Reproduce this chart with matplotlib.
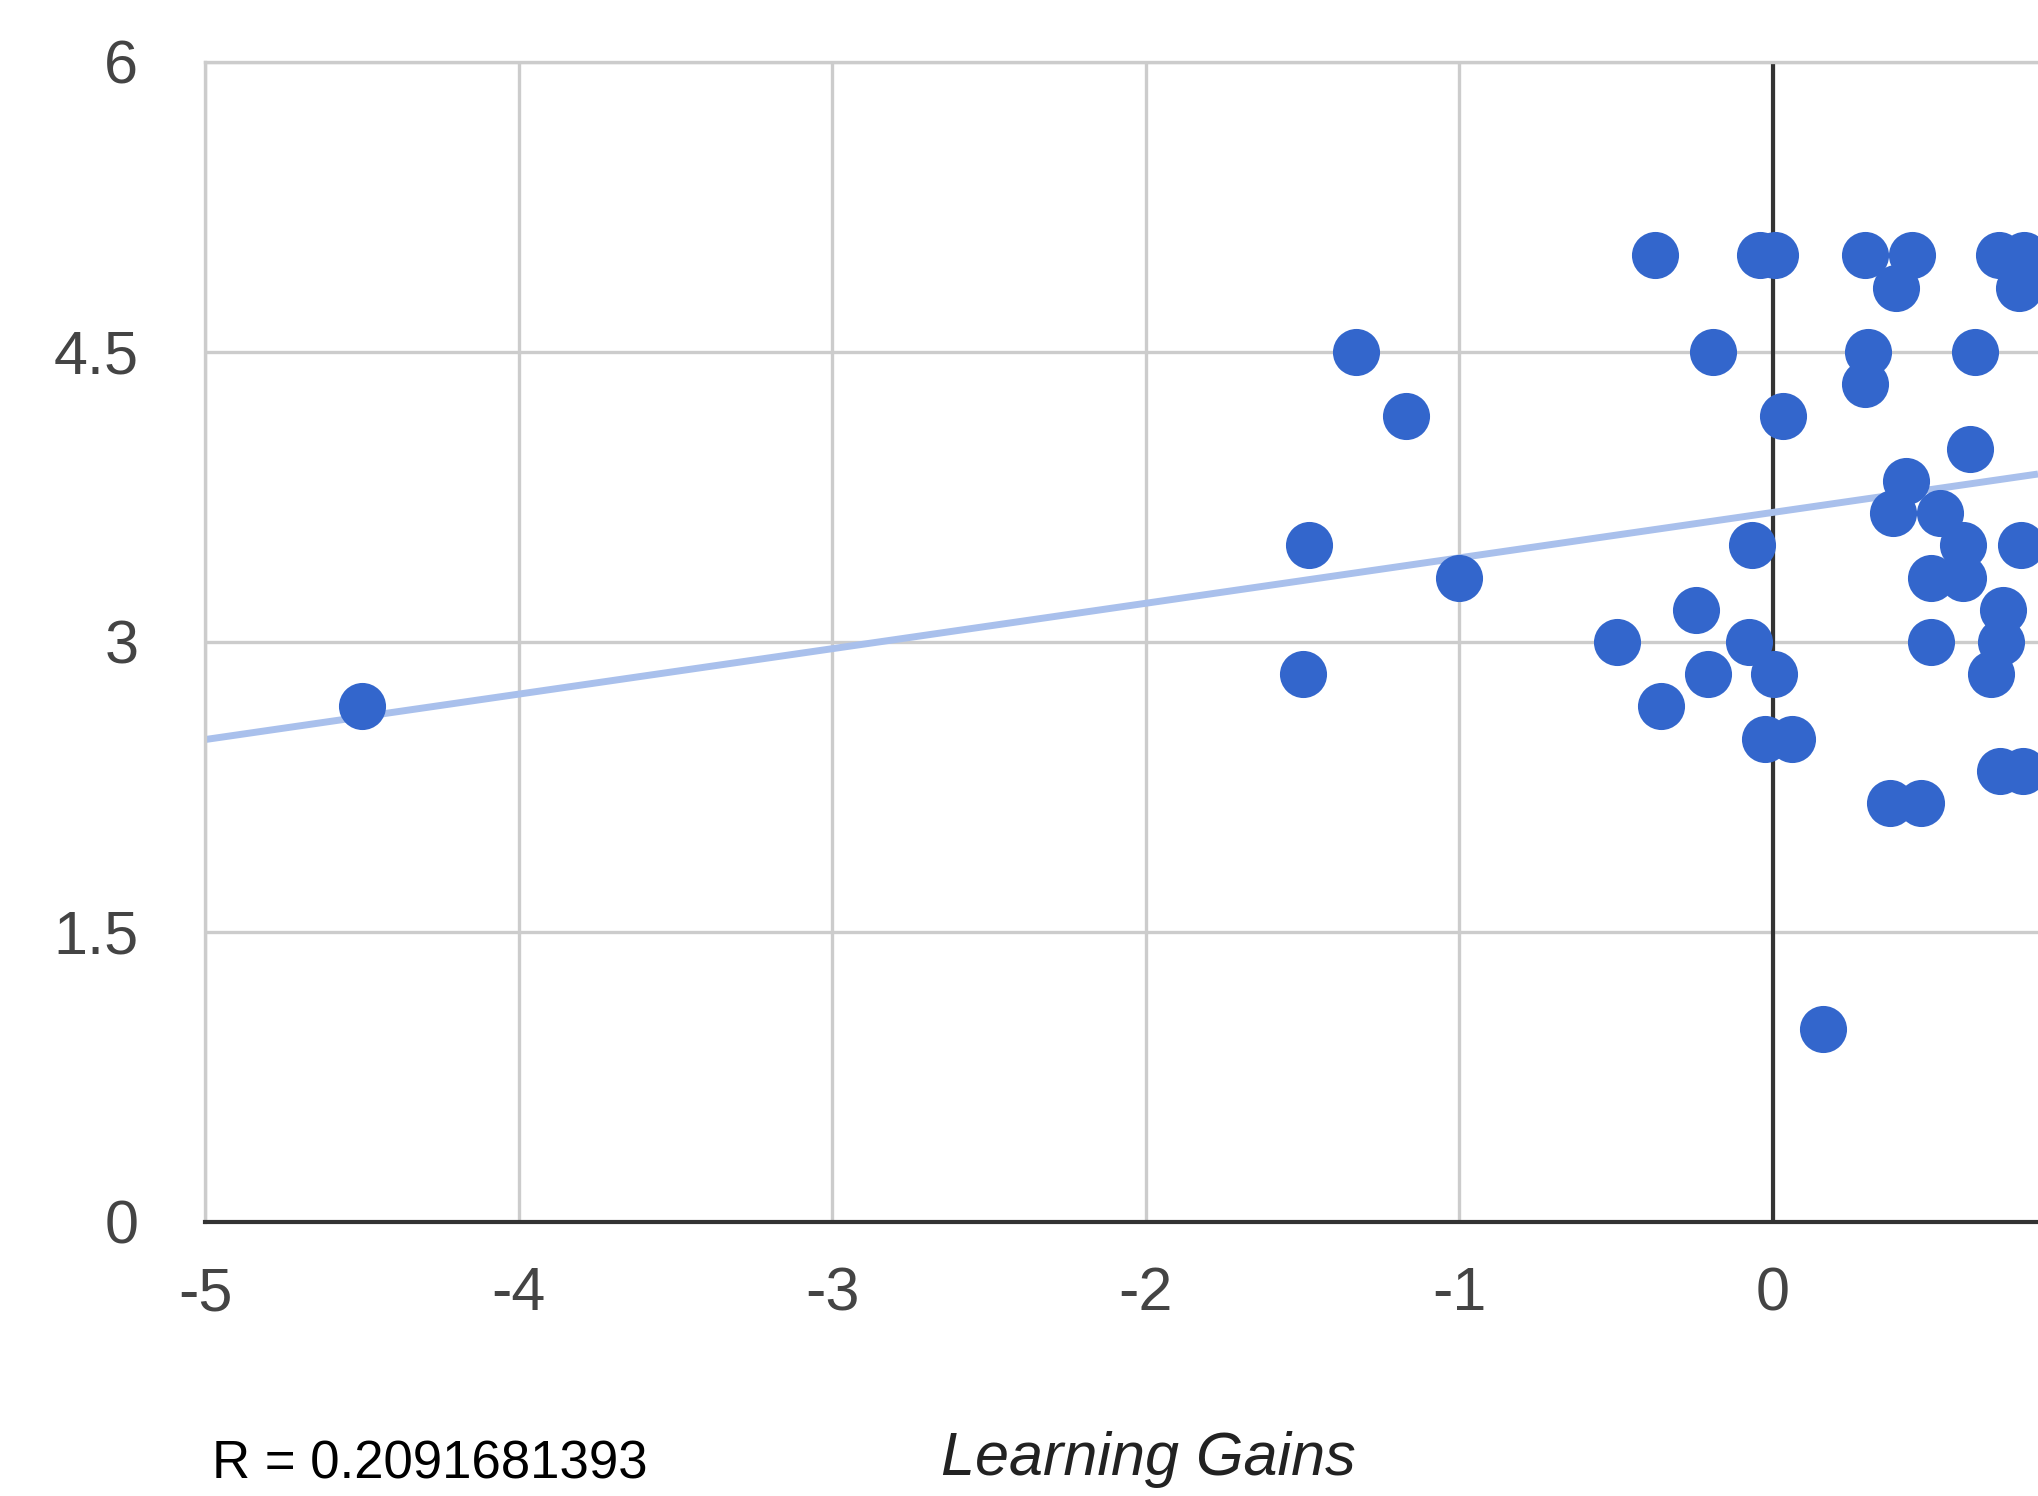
import numpy as np
import matplotlib
matplotlib.use("Agg")
import matplotlib.pyplot as plt

# Pontos (ganho de aprendizagem vs. pontuação)
gains = [-4.50, -1.33, -1.17, -1.48, -1.50, -1.00,
         -0.375, -0.04, 0.007, -0.19, 0.032, -0.067, -0.245, -0.497, -0.076,
         -0.207, 0.003, -0.357, -0.027, 0.062, 0.161,
         0.292, 0.443, 0.393, 0.72, 0.80, 0.786,
         0.303, 0.294, 0.643, 0.627, 0.425, 0.383, 0.531, 0.606, 0.792,
         0.505, 0.606, 0.733, 0.728, 0.505, 0.694, 0.723, 0.797, 0.372, 0.473]
scores = [2.667, 4.5, 4.167, 3.5, 2.833, 3.333,
          5.0, 5.0, 5.0, 4.5, 4.167, 3.5, 3.167, 3.0, 3.0,
          2.833, 2.833, 2.667, 2.5, 2.5, 1.0,
          5.0, 5.0, 4.833, 5.0, 5.0, 4.833,
          4.5, 4.333, 4.5, 4.0, 3.833, 3.667, 3.667, 3.5, 3.5,
          3.333, 3.333, 3.167, 3.0, 3.0, 2.833, 2.333, 2.333, 2.167, 2.167]

# Linha de tendência
trend_slope = 0.235
trend_intercept = 3.67
r_value = "0.2091681393"

x_ticks = [-5, -4, -3, -2, -1, 0]
y_ticks = [0, 1.5, 3, 4.5, 6]
y_tick_labels = ["0", "1.5", "3", "4.5", "6"]

plt.rcParams["font.family"] = ["Liberation Sans", "DejaVu Sans"]
plt.rcParams["axes.unicode_minus"] = False

fig = plt.figure(figsize=(20.38, 14.96), dpi=100)
ax = fig.add_axes([0.1006, 0.1832, 0.8994, 0.7754])

x_min, x_max = -5, 0.845
ax.set_xlim(x_min, x_max)
ax.set_ylim(0, 6)

# Grelha
ax.set_xticks(x_ticks)
ax.set_yticks(y_ticks)
ax.set_yticklabels(y_tick_labels)
ax.grid(True, color="#cccccc", linewidth=2.4, zorder=0)
ax.set_axisbelow(True)
ax.axvline(0, color="#333333", linewidth=3, zorder=1)

for lado in ["left", "top"]:
    ax.spines[lado].set_color("#cccccc")
    ax.spines[lado].set_linewidth(2.4)
ax.spines["right"].set_visible(False)
ax.spines["bottom"].set_color("#333333")
ax.spines["bottom"].set_linewidth(3)

ax.tick_params(axis="both", length=0, labelsize=44, labelcolor="#444444")
ax.tick_params(axis="y", pad=48)
ax.tick_params(axis="x", pad=32)

# Tendência e pontos
tx = np.array([x_min, x_max])
ax.plot(tx, trend_intercept + trend_slope * tx, color="#a9c0ec",
        linewidth=5, solid_capstyle="butt", zorder=2)
ax.scatter(gains, scores, s=1150, color="#3366cc", linewidths=0, zorder=3)

fig.text(212 / 2038, 0.012, f"R = {r_value}", fontsize=38, color="black",
         va="baseline", ha="left")
fig.text(1148 / 2038, 0.014, "Learning Gains", fontsize=44, style="italic",
         color="#222222", va="baseline", ha="center")

plt.savefig("out.png", dpi=100)
